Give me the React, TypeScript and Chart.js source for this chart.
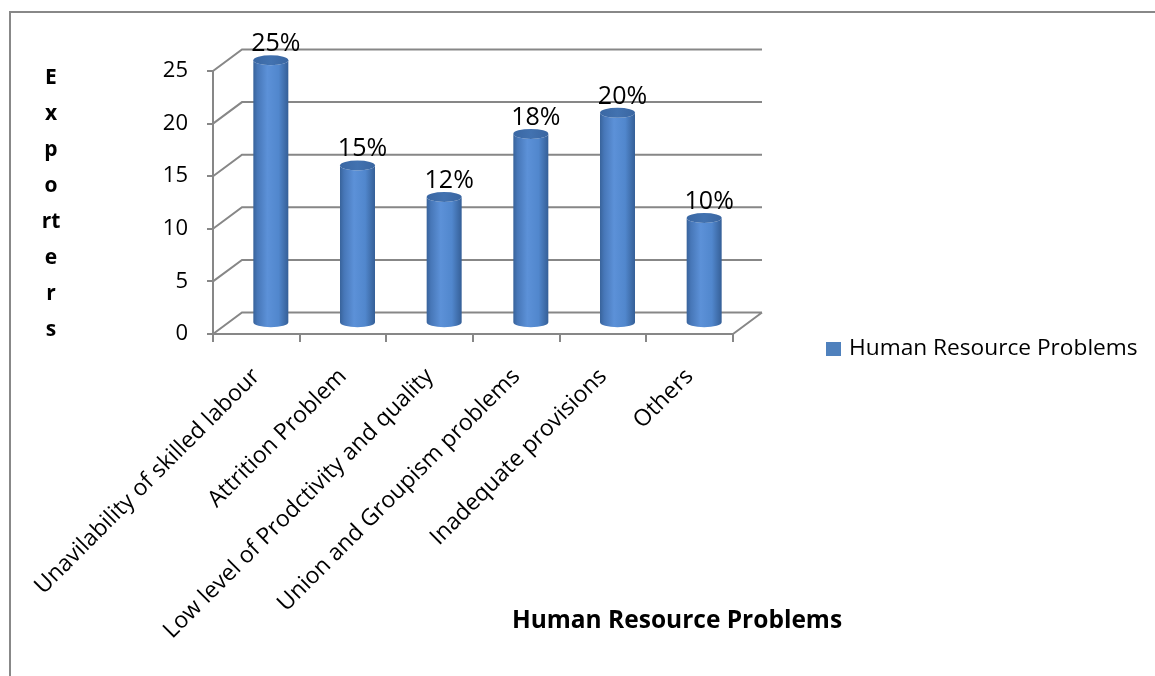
import React, { useEffect, useRef } from 'react';
import { Chart, registerables } from 'chart.js';

Chart.register(...registerables);

// Problem categories and number of exporters reporting each
const categories = [
  'Unavilability of skilled labour',
  'Attrition Problem',
  'Low level of Prodctivity and quality',
  'Union and Groupism problems',
  'Inadequate provisions',
  'Others',
];
const exporters = [25, 15, 12, 18, 20, 10];
const yTickValues = [0, 5, 10, 15, 20, 25];
const seriesName = 'Human Resource Problems';
const xAxisTitle = 'Human Resource Problems';
const yAxisTitleLines = ['E', 'x', 'p', 'o', 'rt', 'e', 'r', 's'];

// Oblique depth of the 3-D walls
const DX = 29;
const DY = -21.5;
const FONT = "'Open Sans', sans-serif";
const LINE = '#878787';
const BAR_BLUE = '#4f81bd';

const wallsAndCylinders = {
  id: 'wallsAndCylinders',
  beforeDraw(chart: any) {
    const { ctx } = chart;
    ctx.save();
    ctx.strokeStyle = '#888888';
    ctx.lineWidth = 2;
    ctx.strokeRect(10, 12, 1160, 720);
    ctx.restore();
  },
  beforeDatasetsDraw(chart: any) {
    const { ctx, chartArea: a } = chart;
    const y = chart.scales.y;
    ctx.save();
    ctx.strokeStyle = LINE;
    ctx.lineWidth = 2;
    ctx.beginPath();
    for (const v of yTickValues) {
      const py = y.getPixelForValue(v);
      ctx.moveTo(a.left, py);
      ctx.lineTo(a.left + DX, py + DY);
      ctx.lineTo(a.right + DX, py + DY);
    }
    ctx.moveTo(a.right, a.bottom);
    ctx.lineTo(a.right + DX, a.bottom + DY);
    ctx.stroke();
    ctx.restore();
  },
  afterDatasetsDraw(chart: any) {
    const { ctx } = chart;
    const meta = chart.getDatasetMeta(0);
    ctx.save();
    meta.data.forEach((bar: any, i: number) => {
      const { x, y, base, width } = bar.getProps(['x', 'y', 'base', 'width'], true);
      const cx = x + DX / 2;
      const top = y + DY / 2;
      const bot = base + DY / 2;
      const rx = width / 2;
      const ry = 5;
      const x0 = cx - rx;
      const x1 = cx + rx;

      const body = ctx.createLinearGradient(x0, 0, x1, 0);
      body.addColorStop(0, '#38639b');
      body.addColorStop(0.12, '#4777b8');
      body.addColorStop(0.4, '#5c91d8');
      body.addColorStop(0.72, '#5187cd');
      body.addColorStop(1, '#355f97');
      ctx.beginPath();
      ctx.moveTo(x0, top);
      ctx.lineTo(x0, bot);
      ctx.ellipse(cx, bot, rx, ry, 0, Math.PI, 0, true);
      ctx.lineTo(x1, top);
      ctx.ellipse(cx, top, rx, ry, 0, 0, Math.PI, false);
      ctx.closePath();
      ctx.fillStyle = body;
      ctx.fill();

      const cap = ctx.createLinearGradient(x0, 0, x1, 0);
      cap.addColorStop(0, '#3a67a3');
      cap.addColorStop(0.5, '#4272b0');
      cap.addColorStop(1, '#3a66a1');
      ctx.beginPath();
      ctx.ellipse(cx, top, rx, ry, 0, 0, Math.PI * 2);
      ctx.fillStyle = cap;
      ctx.fill();

      // value label above each cylinder
      ctx.fillStyle = '#000';
      ctx.font = `25px ${FONT}`;
      ctx.textAlign = 'center';
      ctx.textBaseline = 'alphabetic';
      ctx.fillText(`${exporters[i]}%`, cx + 5, top - 9);
    });

    // stacked vertical axis title
    ctx.font = `bold 21px ${FONT}`;
    ctx.textAlign = 'center';
    ctx.textBaseline = 'alphabetic';
    yAxisTitleLines.forEach((s, i) => ctx.fillText(s, 51, 84 + 36 * i));

    // horizontal axis title
    ctx.font = `bold 24.5px ${FONT}`;
    ctx.fillText(xAxisTitle, 677, 628);

    // legend
    ctx.fillStyle = BAR_BLUE;
    ctx.fillRect(826, 342, 15, 14);
    ctx.fillStyle = '#000';
    ctx.font = `22.7px ${FONT}`;
    ctx.textAlign = 'left';
    ctx.textBaseline = 'middle';
    ctx.fillText(seriesName, 849, 349);
    ctx.restore();
  },
};

export default function App() {
  const ref = useRef<HTMLCanvasElement | null>(null);

  useEffect(() => {
    if (!ref.current) return;
    Chart.defaults.font.family = FONT;
    Chart.defaults.color = '#000';
    const chart = new Chart(ref.current, {
      type: 'bar',
      data: {
        labels: categories,
        datasets: [
          {
            label: seriesName,
            data: exporters,
            backgroundColor: 'rgba(0,0,0,0)',
            borderWidth: 0,
            barThickness: 35,
          },
        ],
      },
      options: {
        animation: false,
        responsive: false,
        layout: { padding: { left: 0, top: 71, right: 422, bottom: 0 } },
        plugins: {
          legend: { display: false },
          tooltip: { enabled: false },
        },
        scales: {
          x: {
            offset: true,
            grid: {
              offset: true,
              drawOnChartArea: false,
              drawTicks: true,
              tickLength: 8,
              color: LINE,
              lineWidth: 2,
            },
            border: { display: true, color: LINE, width: 2 },
            ticks: {
              autoSkip: false,
              maxRotation: 45,
              minRotation: 45,
              padding: 21,
              color: '#000',
              font: { size: 23, family: FONT },
            },
            afterFit(scale: any) {
              scale.height = 342;
            },
          },
          y: {
            min: 0,
            max: 25,
            ticks: {
              stepSize: 5,
              padding: 19,
              color: '#000',
              font: { size: 22, family: FONT },
            },
            grid: {
              drawOnChartArea: false,
              drawTicks: true,
              tickLength: 6,
              color: LINE,
              lineWidth: 2,
            },
            border: { display: true, color: LINE, width: 2 },
            afterFit(scale: any) {
              scale.width = 213;
            },
          },
        },
      },
      plugins: [wallsAndCylinders],
    });
    return () => chart.destroy();
  }, []);

  return (
    <div style={{ position: 'fixed', left: 0, top: 0, width: 1155, height: 676, background: '#fff' }}>
      <canvas ref={ref} width={1155} height={676} style={{ display: 'block' }} />
    </div>
  );
}
